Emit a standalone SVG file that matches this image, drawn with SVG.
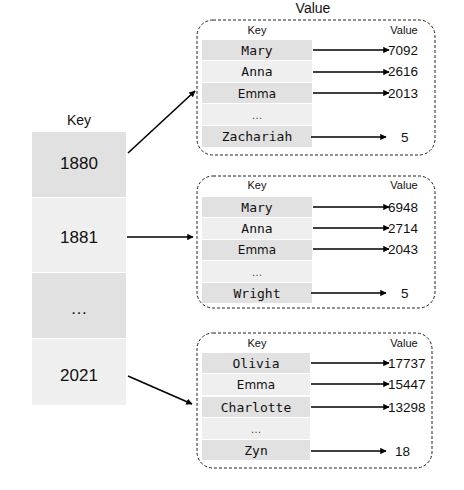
<svg xmlns="http://www.w3.org/2000/svg" width="464" height="490" viewBox="0 0 464 490">
<style>
.bg{fill:#ffffff}
.d{fill:#e1e1e1}
.l{fill:#efefef}
.box{fill:none;stroke:#222;stroke-width:1;stroke-dasharray:3 2}
.yr{font-family:"Liberation Sans",Arial,sans-serif;font-size:17px;fill:#111;text-anchor:middle}
.hd{font-family:"Liberation Sans",Arial,sans-serif;font-size:14px;fill:#111;text-anchor:middle}
.sh{font-family:"Liberation Sans",Arial,sans-serif;font-size:11px;fill:#111;text-anchor:middle}
.nm{font-family:"DejaVu Sans Mono","Liberation Mono",monospace;font-size:13px;fill:#111;text-anchor:middle}
.ns{font-family:"DejaVu Sans","Liberation Sans",sans-serif;font-size:12px;fill:#111;text-anchor:middle}
.el{font-family:"Liberation Sans",Arial,sans-serif;font-size:11px;fill:#444;text-anchor:middle}
.vl{font-family:"Liberation Sans",Arial,sans-serif;font-size:13.5px;fill:#111}
.ar{stroke:#000;stroke-width:1.6;fill:none;marker-end:url(#ah)}
</style>
<defs>
<marker id="ah" viewBox="0 0 10 10" refX="9" refY="5" markerWidth="4" markerHeight="4" orient="auto" markerUnits="strokeWidth">
<path d="M0,0 L10,5 L0,10 z" fill="#000"/>
</marker>
</defs>
<rect class="bg" x="0" y="0" width="464" height="490"/>

<g id="outer-key">
<text class="hd" x="79" y="125">Key</text>
<rect class="d" x="32" y="132" width="94" height="65"/>
<text class="yr" x="79" y="169">1880</text>
<rect class="l" x="32" y="198" width="94" height="74"/>
<text class="yr" x="79" y="243">1881</text>
<rect class="d" x="32" y="273" width="94" height="65"/>
<text class="yr" x="79" y="314">…</text>
<rect class="l" x="32" y="339" width="94" height="66"/>
<text class="yr" x="79" y="381">2021</text>
</g>

<text class="hd" x="313" y="13">Value</text>

<g id="map1880">
<rect class="box" x="197" y="20" width="238" height="135" rx="16"/>
<text class="sh" x="257" y="34">Key</text>
<text class="sh" x="404" y="34">Value</text>
<rect class="d" x="202" y="40" width="110" height="20"/>
<text class="nm" x="257" y="55">Mary</text>
<rect class="l" x="202" y="61" width="110" height="21"/>
<text class="nm" x="257" y="76">Anna</text>
<rect class="d" x="202" y="83" width="110" height="20"/>
<text class="ns" x="257" y="98">Emma</text>
<rect class="l" x="202" y="104" width="110" height="21"/>
<text class="el" x="257" y="119">…</text>
<rect class="d" x="202" y="126" width="110" height="21"/>
<text class="nm" x="257" y="141">Zachariah</text>
<text class="vl" x="388" y="55">7092</text>
<text class="vl" x="388" y="76">2616</text>
<text class="vl" x="388" y="98">2013</text>
<text class="vl" x="401" y="142">5</text>
</g>

<g id="map1881">
<rect class="box" x="197" y="176" width="238" height="132" rx="16"/>
<text class="sh" x="257" y="189">Key</text>
<text class="sh" x="404" y="189">Value</text>
<rect class="d" x="202" y="197" width="110" height="20"/>
<text class="nm" x="257" y="212">Mary</text>
<rect class="l" x="202" y="218" width="110" height="21"/>
<text class="nm" x="257" y="233">Anna</text>
<rect class="d" x="202" y="240" width="110" height="20"/>
<text class="ns" x="257" y="254">Emma</text>
<rect class="l" x="202" y="261" width="110" height="21"/>
<text class="el" x="257" y="276">…</text>
<rect class="d" x="202" y="283" width="110" height="20"/>
<text class="nm" x="257" y="298">Wright</text>
<text class="vl" x="388" y="212">6948</text>
<text class="vl" x="388" y="233">2714</text>
<text class="vl" x="388" y="254">2043</text>
<text class="vl" x="401" y="298">5</text>
</g>

<g id="map2021">
<rect class="box" x="197" y="333" width="235" height="135" rx="16"/>
<text class="sh" x="257" y="347">Key</text>
<text class="sh" x="404" y="347">Value</text>
<rect class="d" x="202" y="353" width="108" height="20"/>
<text class="nm" x="256" y="368">Olivia</text>
<rect class="l" x="202" y="374" width="108" height="21"/>
<text class="ns" x="256" y="389">Emma</text>
<rect class="d" x="202" y="397" width="108" height="20"/>
<text class="nm" x="256" y="412">Charlotte</text>
<rect class="l" x="202" y="418" width="108" height="21"/>
<text class="el" x="256" y="433">…</text>
<rect class="d" x="202" y="440" width="108" height="20"/>
<text class="nm" x="256" y="455">Zyn</text>
<text class="vl" x="388" y="368">17737</text>
<text class="vl" x="388" y="389">15447</text>
<text class="vl" x="388" y="412">13298</text>
<text class="vl" x="395" y="456">18</text>
</g>

<g id="connectors">
<line class="ar" x1="128" y1="153" x2="195" y2="91"/>
<line class="ar" x1="127" y1="237" x2="193" y2="237"/>
<line class="ar" x1="128" y1="376" x2="192" y2="404"/>
<line class="ar" x1="313" y1="50" x2="389" y2="50"/>
<line class="ar" x1="313" y1="72" x2="389" y2="72"/>
<line class="ar" x1="313" y1="93" x2="389" y2="93"/>
<line class="ar" x1="311" y1="137" x2="386" y2="137"/>
<line class="ar" x1="313" y1="207" x2="389" y2="207"/>
<line class="ar" x1="313" y1="228" x2="389" y2="228"/>
<line class="ar" x1="313" y1="249" x2="389" y2="249"/>
<line class="ar" x1="311" y1="293" x2="386" y2="293"/>
<line class="ar" x1="311" y1="363" x2="389" y2="363"/>
<line class="ar" x1="311" y1="384" x2="389" y2="384"/>
<line class="ar" x1="311" y1="407" x2="389" y2="407"/>
<line class="ar" x1="311" y1="451" x2="386" y2="451"/>
</g>
</svg>
